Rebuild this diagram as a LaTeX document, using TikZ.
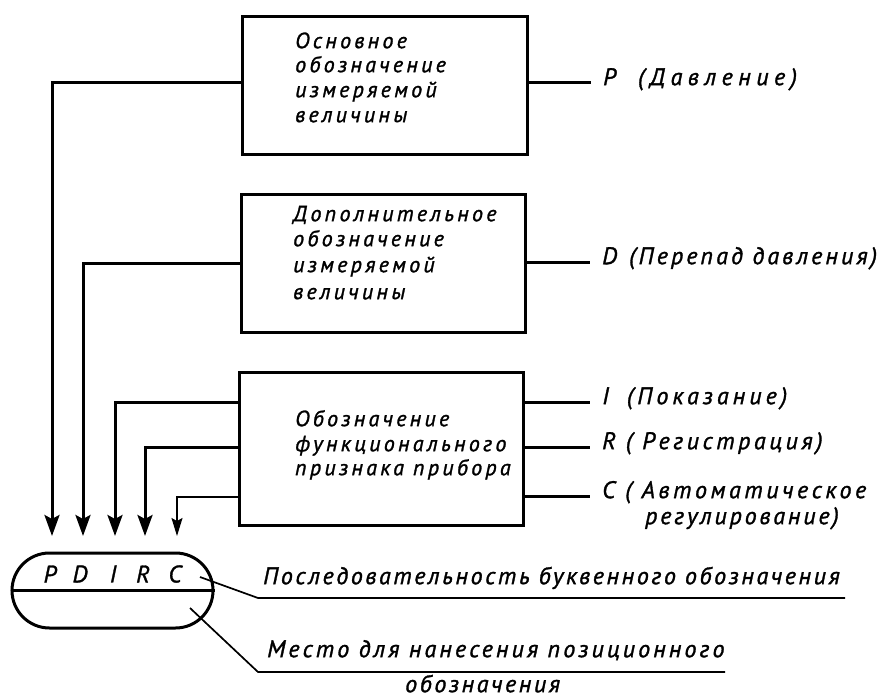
\documentclass[tikz,border=0pt]{standalone}
\usepackage{fontspec}
\newfontfamily\gostA[LetterSpace=15,FakeBold=1.3]{PT Sans}
\newfontfamily\gostB[LetterSpace=15,FakeBold=1.3]{PT Sans}
\usetikzlibrary{arrows.meta}
\begin{document}
\begin{tikzpicture}[x=1pt,y=-1pt,
  box/.style={draw, line width=3pt, inner sep=0pt},
  txt/.style={font=\gostA\itshape\fontsize{22}{26}\selectfont, inner sep=0pt, anchor=mid west},
  big/.style={font=\gostB\itshape\fontsize{24}{28}\selectfont, inner sep=0pt, anchor=mid west},
  lbl/.style={big, inner xsep=12pt},
  conn/.style={line width=3pt},
  arr/.style={conn, -{Stealth[length=21pt,width=15pt,inset=4pt]}},
  arrthin/.style={line width=1.5pt, -{Stealth[length=18pt,width=11pt,inset=3pt]}},
  lead/.style={line width=1.7pt},
  letter/.style={font=\gostB\itshape\fontsize{24}{28}\selectfont, inner sep=0pt}
]
\useasboundingbox (0,0) rectangle (896,698);

% boxes
\node[box, minimum width=285pt, minimum height=137pt] (b1) at (384.5,85.5) {};
\node[box, minimum width=284pt, minimum height=138pt] (b2) at (383,263) {};
\node[box, minimum width=284pt, minimum height=153pt] (b3) at (381,448.5) {};

% box texts
\node[txt] (b1t1) at (295,46) {Основное};
\node[txt] (b1t2) at (295,70) {обозначение};
\node[txt] (b1t3) at (295,95) {измеряемой};
\node[txt] (b1t4) at (295,120) {величины};

\node[txt] (b2t1) at (293,219) {Дополнительное};
\node[txt] (b2t2) at (293,244) {обозначение};
\node[txt] (b2t3) at (293,270) {измеряемой};
\node[txt] (b2t4) at (293,297) {величины};

\node[txt] (b3t1) at (295,424) {Обозначение};
\node[txt] (b3t2) at (295,449) {функционального};
\node[txt] (b3t3) at (295,473) {признака прибора};

% arrow tips
\coordinate (tP) at (52,536);
\coordinate (tD) at (83,536);
\coordinate (tI) at (115,536);
\coordinate (tR) at (145,536);
\coordinate (tC) at (177,536);

\draw[arr] ([yshift=2.5pt]b1.west) -| (tP);
\draw[arr] (b2.west) -| (tD);
\draw[arr] ([yshift=46.5pt]b3.west) -| (tI);
\draw[arr] ([yshift=1.5pt]b3.west) -| (tR);
\draw[arrthin] ([yshift=-48.5pt]b3.west) -| (tC);

% right labels
\node[lbl] (lP) at (591,83) {P\hspace{22pt}{\addfontfeatures{LetterSpace=23}(Давление)}};
\node[lbl] (lD) at (590,262) {D\hspace{12pt}{\addfontfeatures{LetterSpace=13}(Перепад давления)}};
\node[lbl] (lI) at (590,402) {I\hspace{18pt}{\addfontfeatures{LetterSpace=17}(Показание)}};
\node[lbl] (lR) at (590,447) {R\hspace{10pt}( Регистрация)};
\node[lbl] (lC) at (590,496) {C\hspace{10pt}( Автоматическое};
\node[big] (lC2) at (645,522) {{\addfontfeatures{LetterSpace=12}регулирование)}};

\draw[conn] ([yshift=2.5pt]b1.east) -- (lP.mid west);
\draw[conn] ([yshift=1pt]b2.east) -- (lD.mid west);
\draw[conn] ([yshift=46.5pt]b3.east) -- (lI.mid west);
\draw[conn] ([yshift=1.5pt]b3.east) -- (lR.mid west);
\draw[conn] ([yshift=-47.5pt]b3.east) -- (lC.mid west);

% pill
\node[draw, line width=3pt, rounded corners=37.5pt, minimum width=201pt, minimum height=75pt, inner sep=0pt] (pill) at (112.5,590.5) {};
\draw[line width=2.4pt] (pill.west) -- (pill.east);
\node[letter] (cP) at (50,574) {P};
\node[letter] (cD) at (80,574) {D};
\node[letter] (cI) at (113,574) {I};
\node[letter] (cR) at (143,574) {R};
\node[letter] (cC) at (175,574) {C};

% leaders
\coordinate (a1) at (200,577);
\coordinate (k1) at (258,598);
\coordinate (e1) at (845,598);
\draw[lead] (a1) -- (k1) -- (e1);
\coordinate (a2) at (190,608);
\coordinate (k2) at (258,672);
\coordinate (e2) at (725,672);
\draw[lead] (a2) -- (k2) -- (e2);

\node[big] (s1) at (263,582) {{\addfontfeatures{LetterSpace=11}Последовательность буквенного обозначения}};
\node[big] (s2) at (267,655) {{\addfontfeatures{LetterSpace=13}Место для нанесения позиционного}};
\node[big] (s3) at (405,690) {{\addfontfeatures{LetterSpace=11}обозначения}};
\end{tikzpicture}
\end{document}
